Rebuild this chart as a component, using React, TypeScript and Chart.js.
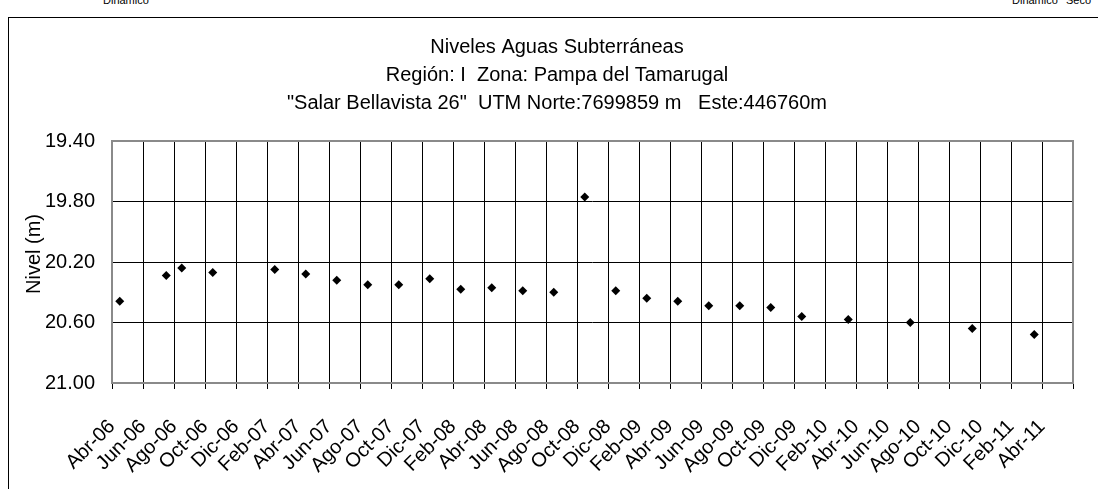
import React, { useEffect, useRef } from 'react';
import { Chart, registerables } from 'chart.js';

Chart.register(...registerables);

const monthNames = ['Ene', 'Feb', 'Mar', 'Abr', 'May', 'Jun', 'Jul', 'Ago', 'Sep', 'Oct', 'Nov', 'Dic'];

const axisLabels = [
  'Abr-06', 'Jun-06', 'Ago-06', 'Oct-06', 'Dic-06', 'Feb-07', 'Abr-07', 'Jun-07', 'Ago-07', 'Oct-07', 'Dic-07',
  'Feb-08', 'Abr-08', 'Jun-08', 'Ago-08', 'Oct-08', 'Dic-08', 'Feb-09', 'Abr-09', 'Jun-09', 'Ago-09', 'Oct-09',
  'Dic-09', 'Feb-10', 'Abr-10', 'Jun-10', 'Ago-10', 'Oct-10', 'Dic-10', 'Feb-11', 'Abr-11',
];

const pointDates = [
  'Abr-06', 'Jul-06', 'Ago-06', 'Oct-06', 'Feb-07', 'Abr-07', 'Jun-07', 'Ago-07', 'Oct-07', 'Dic-07',
  'Feb-08', 'Abr-08', 'Jun-08', 'Ago-08', 'Oct-08', 'Dic-08', 'Feb-09', 'Abr-09', 'Jun-09', 'Ago-09',
  'Oct-09', 'Dic-09', 'Mar-10', 'Jul-10', 'Nov-10', 'Mar-11',
];

const levels = [
  20.46, 20.29, 20.24, 20.27, 20.25, 20.28, 20.32, 20.35, 20.35, 20.31,
  20.38, 20.37, 20.39, 20.40, 19.77, 20.39, 20.44, 20.46, 20.49, 20.49,
  20.50, 20.56, 20.58, 20.60, 20.64, 20.68,
];

const yTickValues = [19.4, 19.8, 20.2, 20.6, 21.0];

const titleLines = [
  'Niveles Aguas Subterráneas',
  'Región: I  Zona: Pampa del Tamarugal',
  '"Salar Bellavista 26"  UTM Norte:7699859 m   Este:446760m',
];

const yAxisTitle = 'Nivel (m)';

const FONT = '"Liberation Sans", Arial, Helvetica, sans-serif';

function monthNumber(label: string): number {
  const [m, y] = label.split('-');
  return (2000 + Number(y)) * 12 + monthNames.indexOf(m);
}

const startMonth = monthNumber(axisLabels[0]);

const plotDecor = {
  id: 'plotDecor',
  afterDatasetsDraw(chart: any) {
    const { ctx, chartArea } = chart;
    ctx.save();
    ctx.strokeStyle = '#8a8a8a';
    ctx.lineWidth = 2;
    ctx.strokeRect(chartArea.left, chartArea.top, chartArea.right - chartArea.left, chartArea.bottom - chartArea.top);
    ctx.restore();
  },
  afterDraw(chart: any) {
    const { ctx } = chart;
    ctx.save();
    ctx.fillStyle = '#000';
    ctx.textAlign = 'center';
    ctx.textBaseline = 'middle';
    ctx.font = `20px ${FONT}`;
    titleLines.forEach((line, i) => {
      ctx.fillText(line, 548, 29 + i * 28);
    });
    ctx.translate(25, 236);
    ctx.rotate(-Math.PI / 2);
    ctx.font = `20px ${FONT}`;
    ctx.fillText(yAxisTitle, 0, 0);
    ctx.restore();
  },
};

export default function App() {
  const canvasRef = useRef<HTMLCanvasElement | null>(null);

  useEffect(() => {
    if (!canvasRef.current) return;
    const points = pointDates.map((d, i) => ({ x: monthNumber(d) - startMonth + 0.5, y: levels[i] }));
    const chart = new Chart(canvasRef.current, {
      type: 'scatter',
      data: {
        datasets: [
          {
            data: points,
            pointStyle: 'rectRot',
            pointRadius: 4.5,
            pointHoverRadius: 4.5,
            backgroundColor: '#000',
            borderColor: '#000',
            borderWidth: 0,
            showLine: false,
          },
        ],
      },
      options: {
        animation: false,
        responsive: false,
        events: [],
        layout: { padding: { left: 0, right: 25, top: 123, bottom: 0 } },
        plugins: {
          legend: { display: false },
          tooltip: { enabled: false },
          title: { display: false },
        },
        scales: {
          x: {
            type: 'linear',
            min: 0,
            max: axisLabels.length * 2,
            afterBuildTicks: (scale: any) => {
              scale.ticks = Array.from({ length: axisLabels.length + 1 }, (_, i) => ({ value: i * 2 }));
            },
            afterFit: (scale: any) => {
              scale.height = 106;
              scale.paddingLeft = 0;
              scale.paddingRight = 0;
            },
            grid: { color: '#000', lineWidth: 1, tickLength: 6, tickColor: '#000' },
            border: { display: false },
            ticks: {
              autoSkip: false,
              maxRotation: 45,
              minRotation: 45,
              color: '#000',
              padding: 26,
              font: { family: FONT, size: 20 },
              callback: (v: any) => axisLabels[Math.round(Number(v) / 2)] ?? '',
            },
          },
          y: {
            type: 'linear',
            reverse: true,
            min: yTickValues[0],
            max: yTickValues[yTickValues.length - 1],
            afterBuildTicks: (scale: any) => {
              scale.ticks = yTickValues.map((v) => ({ value: v }));
            },
            afterFit: (scale: any) => {
              scale.width = 103;
              scale.paddingTop = 0;
              scale.paddingBottom = 0;
            },
            grid: { color: '#000', lineWidth: 1, drawTicks: false },
            border: { display: false },
            title: { display: false },
            ticks: {
              color: '#000',
              padding: 17,
              font: { family: FONT, size: 20 },
              callback: (v: any) => Number(v).toFixed(2),
            },
          },
        },
      },
      plugins: [plotDecor],
    });
    return () => chart.destroy();
  }, []);

  return (
    <div style={{ position: 'fixed', left: 0, top: 0, width: 1098, height: 489, overflow: 'hidden', background: '#fff' }}>
      <div style={{ position: 'absolute', left: 103, top: -6, fontFamily: FONT, fontSize: 11, color: '#000' }}>Dinámico</div>
      <div style={{ position: 'absolute', left: 1012, top: -6, fontFamily: FONT, fontSize: 11, color: '#000' }}>Dinámico</div>
      <div style={{ position: 'absolute', left: 1066, top: -6, fontFamily: FONT, fontSize: 11, color: '#000' }}>Seco</div>
      <div
        style={{
          position: 'absolute',
          left: 8,
          top: 17,
          width: 1200,
          height: 600,
          borderLeft: '1px solid #000',
          borderTop: '1px solid #000',
        }}
      >
        <canvas ref={canvasRef} width={1089} height={471} style={{ display: 'block', width: 1089, height: 471 }} />
      </div>
    </div>
  );
}
